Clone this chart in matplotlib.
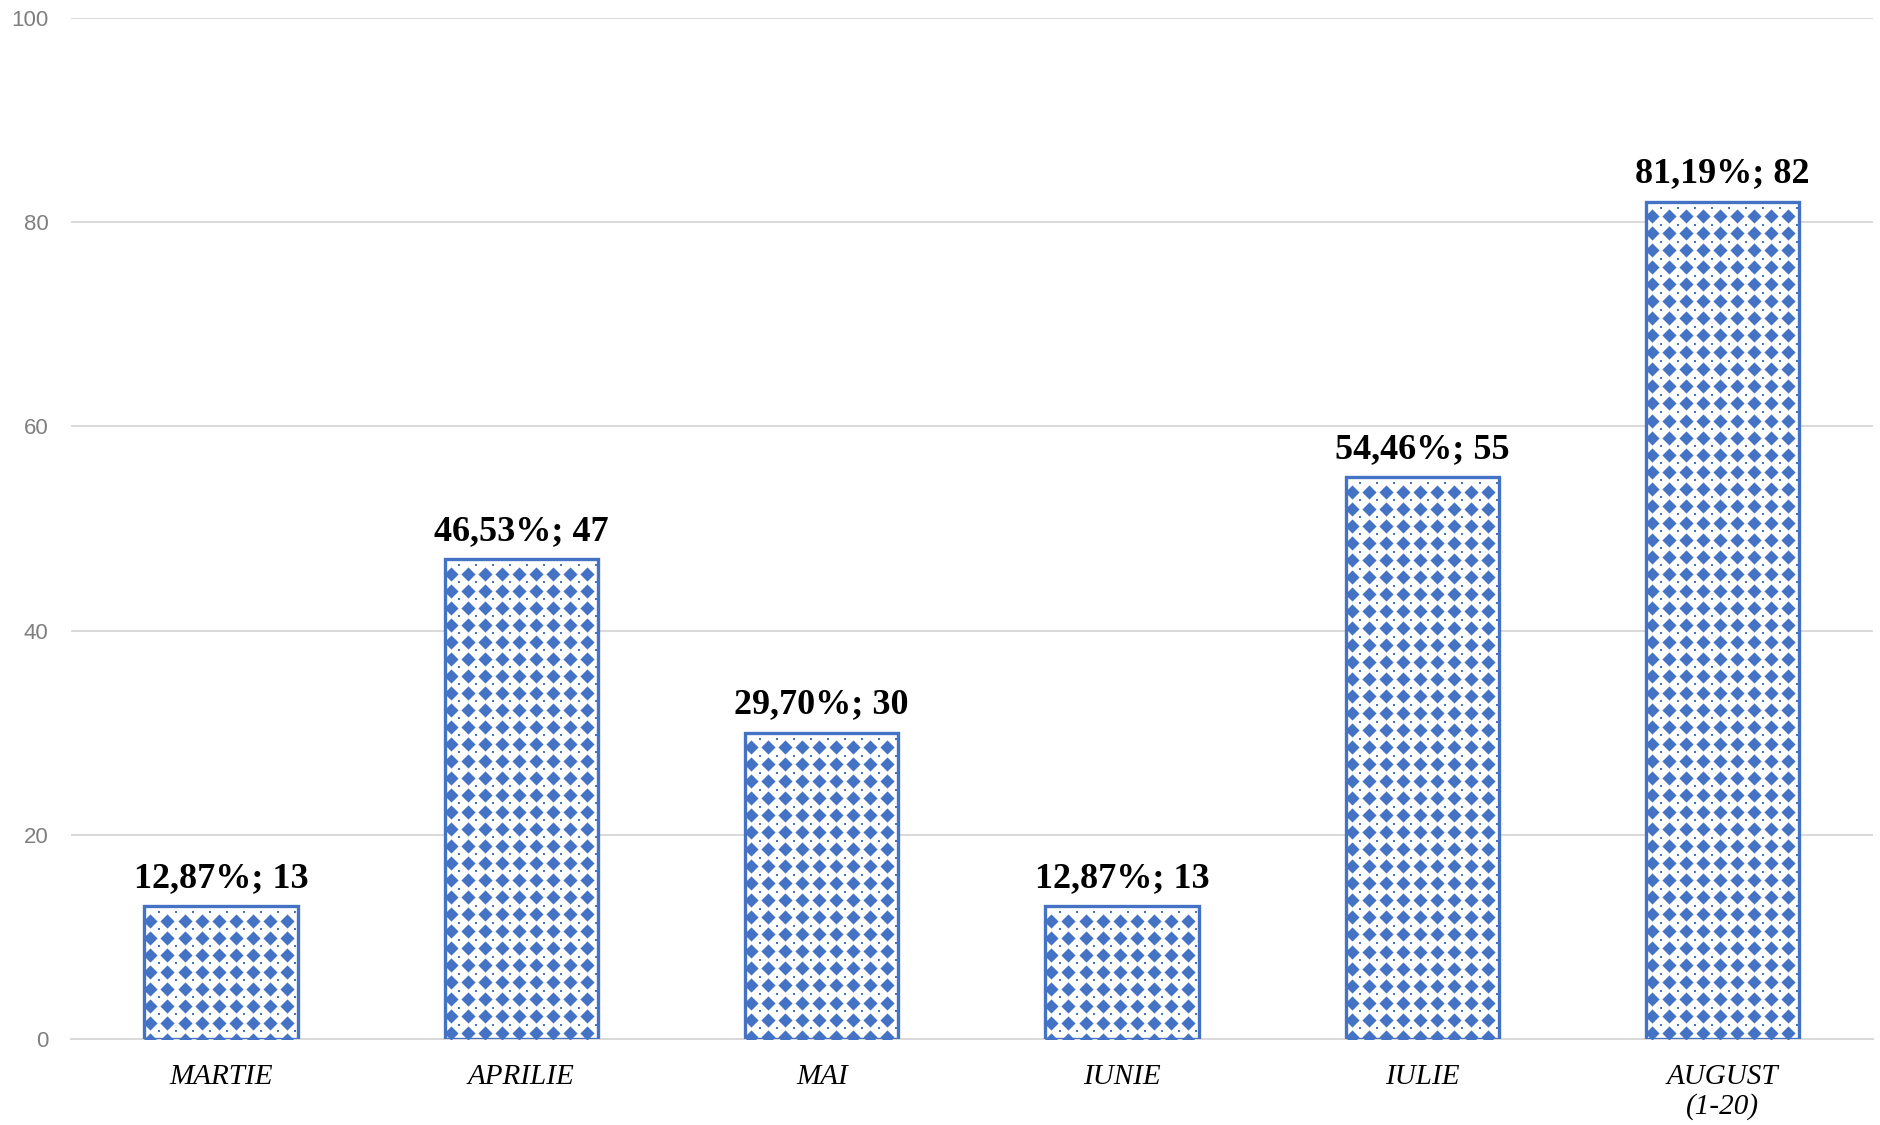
import numpy as np
import matplotlib
matplotlib.use("Agg")
import matplotlib.pyplot as plt

# data
months = ["MARTIE", "APRILIE", "MAI", "IUNIE", "IULIE", "AUGUST\n(1-20)"]
counts = [13, 47, 30, 13, 55, 82]
percents = ["12,87%", "46,53%", "29,70%", "12,87%", "54,46%", "81,19%"]
yticks = [0, 20, 40, 60, 80, 100]

blue = "#4472C4"

fig = plt.figure(figsize=(18.81, 11.25), dpi=100)
ax = fig.add_axes([0.0377, 0.0764, 0.958, 0.9076])

x = np.arange(len(months))
bw = 0.51
bars = ax.bar(x, counts, width=bw, facecolor="white", edgecolor=blue,
              linewidth=2.4, zorder=3)

ax.set_xlim(-0.5, len(months) - 0.5)
ax.set_ylim(0, 100)

# diamond dot pattern inside every bar (Excel pattern fill look)
dx = 0.0567   # ~17 px horizontally
dy = 1.667    # ~17 px vertically
for xi, h, b in zip(x, counts, bars):
    cols = np.arange(xi - bw / 2 + dx * 0.35, xi + bw / 2, dx)
    rows = np.arange(h - dy * 0.85, -dy, -dy)
    gx, gy = np.meshgrid(cols, rows)
    sc = ax.scatter(gx.ravel(), gy.ravel(), marker="D", s=52, color=blue,
                    linewidths=0, zorder=4)
    sc.set_clip_path(b)
    # small connectors between diamonds
    sc2 = ax.scatter((gx + dx / 2).ravel(), (gy + dy / 2).ravel(), marker="s",
                     s=3, color=blue, linewidths=0, zorder=4)
    sc2.set_clip_path(b)

for xi, h, p in zip(x, counts, percents):
    ax.annotate("%s; %d" % (p, h), (xi, h), xytext=(0, 14),
                textcoords="offset points", ha="center", va="baseline",
                fontsize=26, fontweight="bold", family="Liberation Serif")

ax.set_yticks(yticks)
ax.set_yticklabels([str(t) for t in yticks], fontsize=16, color="#7f7f7f",
                   family="Liberation Sans")
ax.set_xticks(x)
ax.set_xticklabels(months, fontsize=21, fontstyle="italic",
                   family="Liberation Serif", linespacing=1.15)
ax.tick_params(axis="y", length=0, pad=16)
ax.tick_params(axis="x", length=0, pad=18)

ax.yaxis.grid(True, color="#d9d9d9", linewidth=1.4, zorder=0)
ax.set_axisbelow(True)
for s in ["top", "right", "left"]:
    ax.spines[s].set_visible(False)
ax.spines["bottom"].set_color("#d9d9d9")
ax.spines["bottom"].set_linewidth(1.4)

fig.savefig("out.png", dpi=100)
